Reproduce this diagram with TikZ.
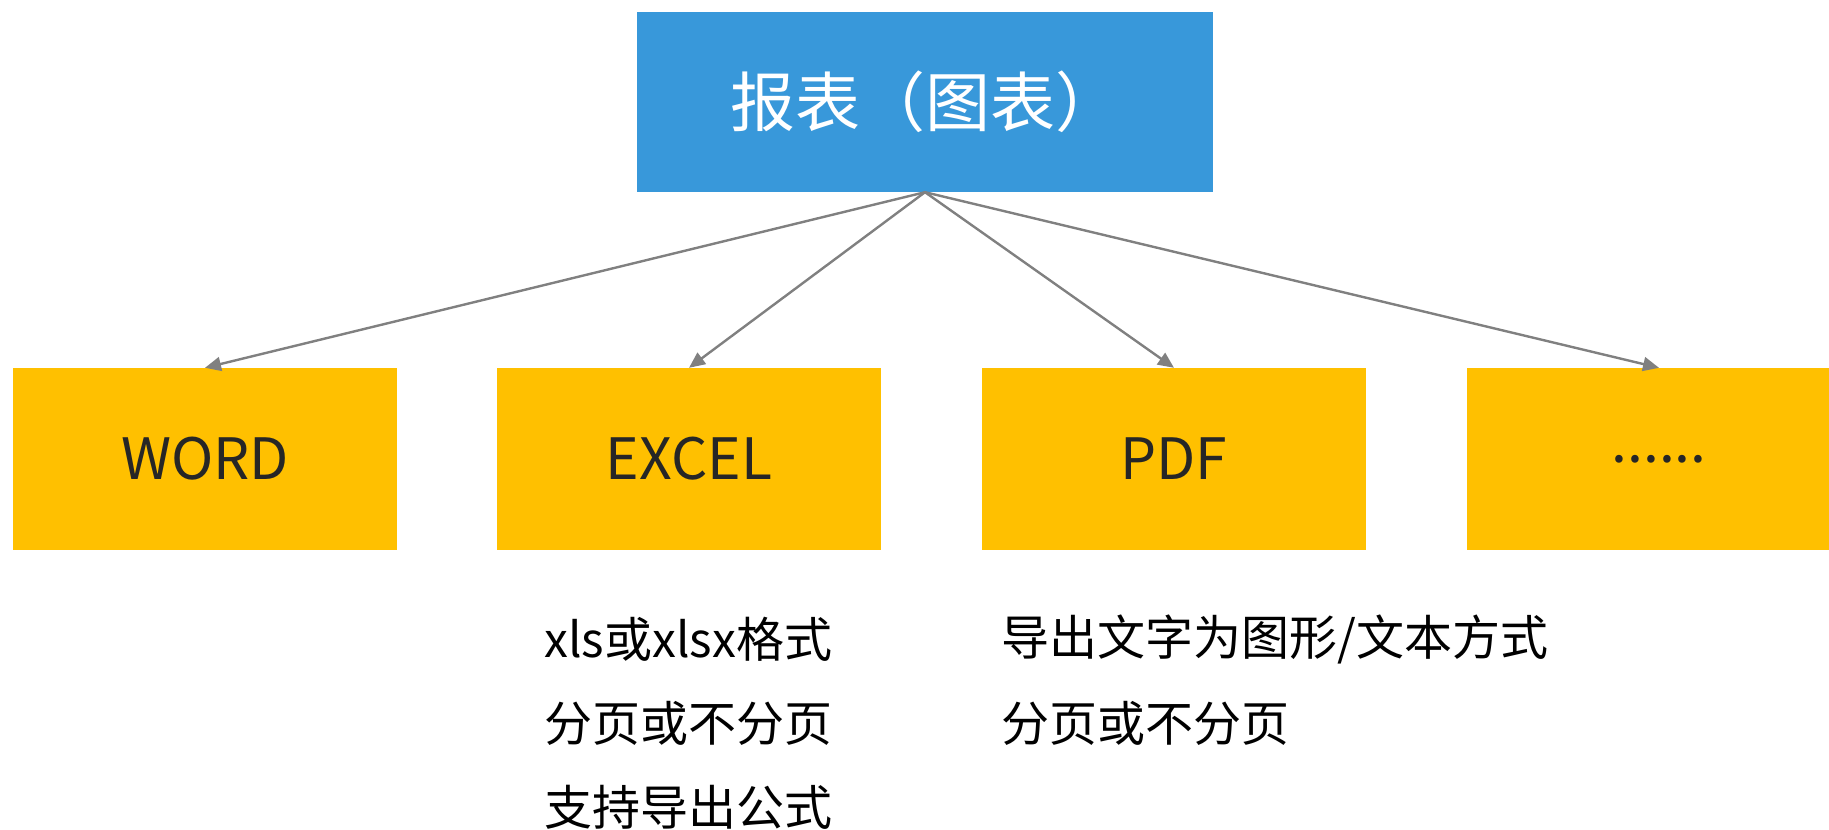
\documentclass[tikz,border=0pt]{standalone}
\usepackage{fontspec}
\setmainfont{Noto Sans CJK SC}
\usetikzlibrary{arrows.meta}
\definecolor{topblue}{RGB}{56,152,218}
\definecolor{boxyellow}{RGB}{255,192,0}
\definecolor{arrowgray}{RGB}{128,128,128}
\definecolor{textdark}{RGB}{38,38,38}
\begin{document}
\begin{tikzpicture}[x=1pt,y=-1pt,
 topbox/.style={fill=topblue, minimum width=576pt, minimum height=180pt, inner sep=0pt, text=white, font=\fontsize{65}{70}\selectfont},
 fmtbox/.style={fill=boxyellow, minimum width=384pt, minimum height=182pt, inner sep=0pt, text=textdark, font=\fontsize{57}{60}\selectfont},
 link/.style={draw=arrowgray, line width=2.4pt, -{Triangle[length=16pt,width=14pt]}},
 note/.style={anchor=west, inner sep=0pt, text=black, font=\fontsize{48}{52}\selectfont}]
\useasboundingbox (0,0) rectangle (1829,830);
\clip (0,0) rectangle (1829,830);
\node[topbox] (top) at (925,102) {报表（图表）};
\node[fmtbox] (word) at (205,459) {WORD};
\node[fmtbox] (excel) at (689,459) {EXCEL};
\node[fmtbox] (pdf) at (1174,459) {PDF};
\node[fmtbox] (more) at (1659,459) {......};
\draw[link] (top.south) -- (word.north);
\draw[link] (top.south) -- (excel.north);
\draw[link] (top.south) -- (pdf.north);
\draw[link] (top.south) -- (more.north);
\node[note] (e1) at (544,639) {xls或xlsx格式};
\node[note] (e2) at (544,723) {分页或不分页};
\node[note] (e3) at (544,807) {支持导出公式};
\node[note] (p1) at (1001,639) {导出文字为图形/文本方式};
\node[note] (p2) at (1001,723) {分页或不分页};
\end{tikzpicture}
\end{document}
